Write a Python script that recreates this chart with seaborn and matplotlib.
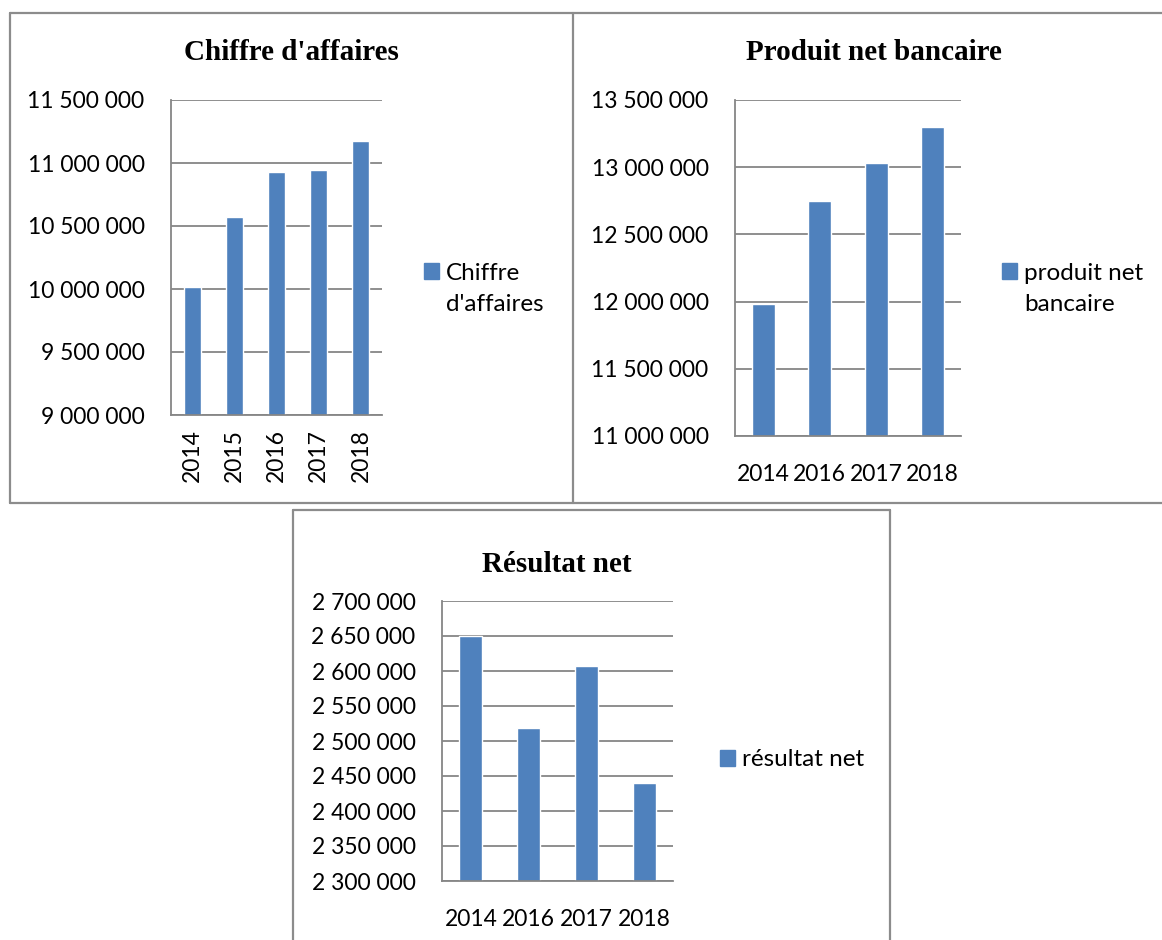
import matplotlib
matplotlib.use("Agg")
import matplotlib.pyplot as plt
import seaborn as sns
from matplotlib.lines import Line2D
from matplotlib.patches import Patch
from matplotlib.ticker import FuncFormatter

# data
ca_years = ["2014", "2015", "2016", "2017", "2018"]
ca_values = [10018000, 10574000, 10929000, 10947000, 11177000]

pnb_years = ["2014", "2016", "2017", "2018"]
pnb_values = [11983000, 12745000, 13030000, 13300000]

rn_years = ["2014", "2016", "2017", "2018"]
rn_values = [2650000, 2518000, 2607000, 2440000]

W, H = 1162, 940
BLUE = "#4F81BD"
GRAY = "#868686"

sns.set_style("white")
plt.rcParams["font.family"] = ["Lato", "DejaVu Sans"]
plt.rcParams["text.color"] = "black"
plt.rcParams["xtick.labelcolor"] = "black"
plt.rcParams["ytick.labelcolor"] = "black"

fig = plt.figure(figsize=(W / 100, H / 100), dpi=100)


def fx(x):
    return x / W


def fy(y):
    return 1 - y / H


def box_line(x0, y0, x1, y1):
    fig.add_artist(Line2D([fx(x0), fx(x1)], [fy(y0), fy(y1)], color="#8c8c8c",
                          lw=1.6, transform=fig.transFigure))


def make_chart(left, top, right, bottom, years, values, ymin, ymax, step,
               title, title_xy, legend_lines, legend_xy, rotate=False):
    ax = fig.add_axes([fx(left), fy(bottom), fx(right - left), (bottom - top) / H])
    sns.barplot(x=years, y=values, color=BLUE, width=0.4, errorbar=None,
                saturation=1, ax=ax)
    ax.set_ylim(ymin, ymax)
    ax.set_xlim(-0.5, len(years) - 0.5)
    ax.set_yticks(range(ymin, ymax + 1, step))
    ax.yaxis.set_major_formatter(FuncFormatter(lambda v, p: f"{int(v):,}".replace(",", " ")))
    ax.yaxis.grid(True, color=GRAY, lw=1.3)
    ax.set_axisbelow(True)
    for s in ["top", "right"]:
        ax.spines[s].set_visible(False)
    for s in ["left", "bottom"]:
        ax.spines[s].set_color(GRAY)
        ax.spines[s].set_linewidth(1.3)
    ax.tick_params(axis="y", length=6, width=1.3, color=GRAY, pad=13, labelsize=16.5)
    ax.set_xticks([i - 0.5 for i in range(len(years) + 1)], minor=True)
    ax.tick_params(axis="x", which="minor", length=6, width=1.3, color=GRAY, direction="out")
    ax.tick_params(axis="x", which="major", length=0, labelsize=16.5,
                   pad=10 if rotate else 20, labelrotation=90 if rotate else 0)
    ax.set_xlabel("")
    ax.set_ylabel("")
    fig.text(fx(title_xy[0]), fy(title_xy[1]), title, ha="center", va="center",
             family="Liberation Serif", fontweight="bold", fontsize=21)
    # legend: a blue square on the first line, wrapped text below it
    handles = [Patch(facecolor=BLUE, edgecolor=BLUE)]
    handles += [Patch(facecolor="none", edgecolor="none") for _ in legend_lines[1:]]
    ax.legend(handles=handles, labels=legend_lines, loc="center left",
              bbox_to_anchor=(fx(legend_xy[0]), fy(legend_xy[1])),
              bbox_transform=fig.transFigure, frameon=False, fontsize=17.5,
              handlelength=0.6, handleheight=0.6, handletextpad=0.3,
              labelspacing=0.45, borderpad=0, borderaxespad=0)
    return ax


make_chart(171, 100, 382, 415, ca_years, ca_values, 9000000, 11500000, 500000,
           "Chiffre d'affaires", (291, 53), ["Chiffre", "d'affaires"], (424, 289), rotate=True)
make_chart(735, 100, 961, 436, pnb_years, pnb_values, 11000000, 13500000, 500000,
           "Produit net bancaire", (874, 53), ["produit net", "bancaire"], (1002, 289))
make_chart(442, 601, 673, 881, rn_years, rn_values, 2300000, 2700000, 50000,
           "Résultat net", (557, 564), ["résultat net"], (720, 760))

# frames around the three charts
box_line(10, 13, 1162, 13)
box_line(10, 503, 1162, 503)
box_line(10, 13, 10, 503)
box_line(573, 13, 573, 503)
box_line(293, 510, 890, 510)
box_line(293, 510, 293, 940)
box_line(890, 510, 890, 940)

fig.savefig("out.png", dpi=100)
